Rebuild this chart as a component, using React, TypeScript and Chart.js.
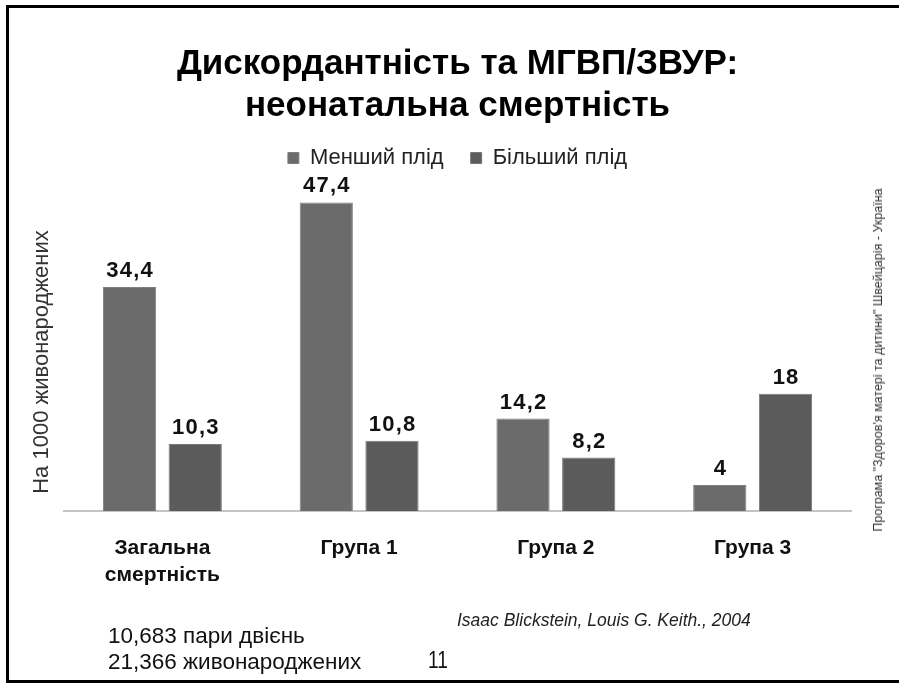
import React, { useEffect, useRef } from 'react';
import { Chart, registerables } from 'chart.js';

Chart.register(...registerables);

const categories: (string | string[])[] = [['Загальна', 'смертність'], 'Група 1', 'Група 2', 'Група 3'];
const seriesNames = ['Менший плід', 'Більший плід'];
const smallerTwin = [34.4, 47.4, 14.2, 4];
const largerTwin = [10.3, 10.8, 8.2, 18];
const seriesColors = ['#6b6b6b', '#5b5b5b'];
const titleLines = ['Дискордантність та МГВП/ЗВУР:', 'неонатальна смертність'];
const yAxisTitle = 'На 1000 живонароджених';
const yMin = 0;
const yMax = 51;
const footLines = ['10,683 пари двієнь', '21,366 живонароджених'];
const sourceText = 'Isaac Blickstein, Louis G. Keith., 2004';
const pageNumber = '11';
const sideText = 'Програма "Здоров\'я матері та дитини" Швейцарія - Україна';

const FONT = '"Liberation Sans", Arial, sans-serif';

const valueLabels = {
  id: 'valueLabels',
  afterDatasetsDraw(chart: any) {
    const ctx = chart.ctx;
    ctx.save();
    ctx.font = `bold 22px ${FONT}`;
    try { (ctx as any).letterSpacing = '1.2px'; } catch (e) { /* ignore */ }
    ctx.fillStyle = '#111';
    ctx.textAlign = 'center';
    ctx.textBaseline = 'alphabetic';
    chart.data.datasets.forEach((ds: any, i: number) => {
      const meta = chart.getDatasetMeta(i);
      meta.data.forEach((bar: any, j: number) => {
        const v = ds.data[j];
        ctx.fillText(String(v).replace('.', ','), bar.x + 0.6, bar.y - 10);
      });
    });
    ctx.restore();
  },
};

const yTitle = {
  id: 'yTitle',
  afterDraw(chart: any) {
    const { ctx, chartArea } = chart;
    ctx.save();
    ctx.translate(chartArea.left - 22, (chartArea.top + chartArea.bottom) / 2 + 17);
    ctx.rotate(-Math.PI / 2);
    ctx.font = `22px ${FONT}`;
    ctx.fillStyle = '#333';
    ctx.textAlign = 'center';
    ctx.textBaseline = 'middle';
    ctx.fillText(yAxisTitle, 0, 0);
    ctx.restore();
  },
};

export default function App() {
  const canvasRef = useRef<HTMLCanvasElement | null>(null);

  useEffect(() => {
    if (!canvasRef.current) return;
    Chart.defaults.font.family = FONT;
    const chart = new Chart(canvasRef.current, {
      type: 'bar',
      data: {
        labels: categories,
        datasets: [
          {
            label: seriesNames[0],
            data: smallerTwin,
            backgroundColor: seriesColors[0],
            borderColor: '#808080',
            borderWidth: 1,
            categoryPercentage: 0.668,
            barPercentage: 0.81,
          },
          {
            label: seriesNames[1],
            data: largerTwin,
            backgroundColor: seriesColors[1],
            borderColor: '#777777',
            borderWidth: 1,
            categoryPercentage: 0.668,
            barPercentage: 0.81,
          },
        ],
      },
      options: {
        responsive: false,
        animation: false,
        devicePixelRatio: 1,
        layout: { padding: { left: 64, right: 48, top: 0, bottom: 71 } },
        plugins: {
          title: {
            display: true,
            text: titleLines,
            color: '#000',
            font: { size: 35, weight: 'bold', lineHeight: 1.2 },
            padding: { top: 43, bottom: -7 },
          },
          legend: {
            display: true,
            position: 'top',
            labels: {
              color: '#222',
              font: { size: 22 },
              boxWidth: 11,
              boxHeight: 11,
              padding: 27,
            },
          },
          tooltip: { enabled: false },
        },
        scales: {
          x: {
            grid: { display: false, drawTicks: false },
            border: { display: true, color: '#c4c4c4', width: 2 },
            ticks: {
              color: '#111',
              padding: 24,
              font: { size: 21, weight: 'bold', lineHeight: 1.286 },
            },
          },
          y: {
            display: false,
            min: yMin,
            max: yMax,
          },
        },
      },
      plugins: [valueLabels, yTitle],
    } as any);
    return () => chart.destroy();
  }, []);

  return (
    <div style={{ position: 'absolute', left: 0, top: 0, width: 899, height: 684, overflow: 'hidden', background: '#fff', fontFamily: FONT }}>
      <div style={{ position: 'absolute', left: 6, top: 5, width: 1000, height: 672, border: '3px solid #000' }} />
      <canvas ref={canvasRef} width={899} height={684} style={{ position: 'absolute', left: 0, top: 0, width: 899, height: 684 }} />
      <div style={{ position: 'absolute', left: 878, top: 360, transform: 'translate(-50%, -50%) rotate(-90deg)', whiteSpace: 'nowrap', fontSize: 12.5, color: '#333' }}>{sideText}</div>
      <div style={{ position: 'absolute', left: 108, top: 623, fontSize: 22.5, lineHeight: '26px', color: '#111', whiteSpace: 'nowrap' }}>
        <div>{footLines[0]}</div>
        <div>{footLines[1]}</div>
      </div>
      <div style={{ position: 'absolute', left: 457, top: 610, fontSize: 17.5, fontStyle: 'italic', color: '#222', whiteSpace: 'nowrap' }}>{sourceText}</div>
      <div style={{ position: 'absolute', left: 428, top: 646, fontSize: 24, lineHeight: '28px', color: '#111', transform: 'scaleX(0.8)', transformOrigin: 'left center' }}>{pageNumber}</div>
    </div>
  );
}
